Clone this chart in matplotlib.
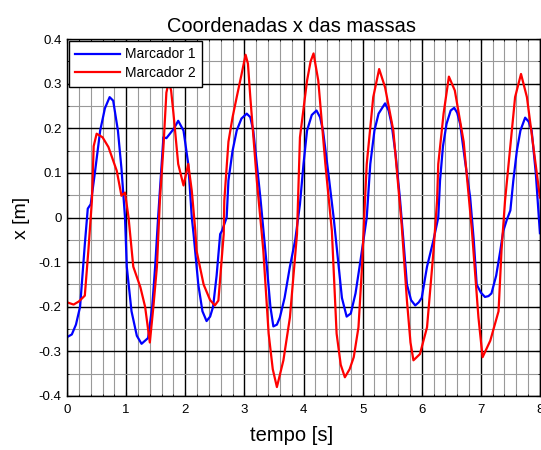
import matplotlib
matplotlib.use("Agg")
from matplotlib import pyplot as plt
from matplotlib.ticker import MultipleLocator

plt.rcParams['font.family'] = ['Liberation Sans', 'DejaVu Sans']

# ===================== dados =====================
t1 = [0.00, 0.08, 0.15, 0.22, 0.30, 0.35, 0.40, 0.47, 0.56, 0.64, 0.72, 0.78, 0.86, 0.92, 0.98,
      1.01, 1.09, 1.18, 1.26, 1.37, 1.44, 1.49, 1.54, 1.58, 1.63, 1.68, 1.74, 1.81, 1.88, 1.97, 2.05, 2.11,
      2.14, 2.22, 2.29, 2.36, 2.42, 2.47, 2.53, 2.59, 2.62, 2.70, 2.73, 2.80, 2.87, 2.95, 3.04, 3.10, 3.15, 3.21, 3.27,
      3.33, 3.38, 3.44, 3.49, 3.55, 3.60, 3.68, 3.77, 3.86, 3.94, 4.00, 4.06, 4.14, 4.22, 4.28, 4.33, 4.42, 4.51,
      4.58, 4.65, 4.73, 4.80, 4.88, 4.96, 5.07, 5.13, 5.20, 5.27, 5.38, 5.44, 5.49, 5.56, 5.63,
      5.69, 5.75, 5.82, 5.89, 5.95, 6.00, 6.09, 6.20, 6.28, 6.31, 6.36, 6.42, 6.49, 6.55, 6.60, 6.65, 6.73, 6.82,
      6.88, 6.93, 7.00, 7.07, 7.13, 7.18, 7.26, 7.33, 7.38, 7.44, 7.50, 7.55, 7.61, 7.67, 7.75, 7.81, 7.86, 7.93, 8.00]
x1 = [-0.268, -0.262, -0.240, -0.200, -0.060, 0.020, 0.030, 0.100, 0.195, 0.245, 0.270, 0.262, 0.195, 0.110, 0.000,
      -0.110, -0.210, -0.265, -0.283, -0.270, -0.200, -0.110, 0.000, 0.080, 0.180, 0.178, 0.188, 0.200, 0.217, 0.195, 0.120, 0.000,
      -0.037, -0.150, -0.210, -0.232, -0.222, -0.200, -0.130, -0.037, -0.030, 0.000, 0.083, 0.150, 0.195, 0.222, 0.233, 0.225, 0.195, 0.120, 0.045,
      -0.040, -0.110, -0.200, -0.244, -0.240, -0.224, -0.180, -0.110, -0.050, 0.030, 0.120, 0.195, 0.230, 0.240, 0.225, 0.195, 0.100, 0.000,
      -0.090, -0.180, -0.222, -0.215, -0.170, -0.100, 0.000, 0.120, 0.195, 0.233, 0.256, 0.240, 0.210, 0.140, 0.045,
      -0.050, -0.150, -0.185, -0.197, -0.190, -0.180, -0.110, -0.050, 0.000, 0.083, 0.160, 0.210, 0.240, 0.246, 0.235, 0.210, 0.130, 0.045,
      -0.050, -0.150, -0.168, -0.178, -0.176, -0.170, -0.130, -0.074, -0.030, -0.005, 0.016, 0.083, 0.150, 0.195, 0.224, 0.215, 0.195, 0.100, -0.035]

t2 = [0.00, 0.11, 0.20, 0.30, 0.36, 0.42, 0.45, 0.50, 0.60, 0.70, 0.84, 0.92, 0.98, 1.04,
      1.12, 1.24, 1.32, 1.40, 1.46, 1.52, 1.57, 1.63, 1.68, 1.72, 1.76, 1.80, 1.88, 1.97, 2.05, 2.11, 2.17,
      2.19, 2.31, 2.42, 2.50, 2.56, 2.65, 2.66, 2.73, 2.80, 2.87, 2.95, 3.02, 3.06, 3.10, 3.21, 3.29,
      3.32, 3.41, 3.48, 3.55, 3.66, 3.77, 3.89, 3.94, 4.06, 4.12, 4.17, 4.25, 4.37, 4.48,
      4.56, 4.63, 4.70, 4.78, 4.85, 4.93, 4.99, 5.04, 5.07, 5.18, 5.28, 5.38, 5.52, 5.66,
      5.75, 5.81, 5.86, 5.97, 6.09, 6.20, 6.26, 6.28, 6.37, 6.46, 6.56, 6.71, 6.85,
      6.96, 7.03, 7.16, 7.30, 7.35, 7.41, 7.47, 7.58, 7.68, 7.78, 7.89, 8.00]
x2 = [-0.190, -0.195, -0.188, -0.175, -0.074, 0.038, 0.160, 0.188, 0.180, 0.158, 0.105, 0.049, 0.056, 0.000,
      -0.110, -0.156, -0.200, -0.280, -0.200, -0.110, 0.038, 0.158, 0.280, 0.305, 0.285, 0.233, 0.120, 0.072, 0.120, 0.060, -0.030,
      -0.074, -0.150, -0.185, -0.197, -0.186, -0.037, 0.038, 0.170, 0.225, 0.270, 0.320, 0.365, 0.345, 0.270, 0.083, -0.030,
      -0.074, -0.260, -0.340, -0.380, -0.320, -0.224, -0.037, 0.180, 0.307, 0.350, 0.368, 0.307, 0.120, -0.030,
      -0.260, -0.330, -0.358, -0.340, -0.313, -0.246, -0.110, 0.038, 0.120, 0.270, 0.333, 0.292, 0.195, -0.015,
      -0.186, -0.280, -0.320, -0.306, -0.246, -0.074, 0.038, 0.120, 0.233, 0.316, 0.285, 0.170, -0.030,
      -0.224, -0.313, -0.276, -0.210, -0.074, 0.038, 0.120, 0.270, 0.322, 0.270, 0.158, 0.045]

yticks = [-0.4, -0.3, -0.2, -0.1, 0, 0.1, 0.2, 0.3, 0.4]
ytick_labels = ['-0.4', '-0.3', '-0.2', '-0.1', '0', '0.1', '0.2', '0.3', '0.4']

# ===================== figura =====================
fig = plt.figure(figsize=(5.41, 4.5), dpi=100)
ax = fig.add_axes([0.124, 0.12, 0.874, 0.793])

ax.plot(t1, x1, color='#0000ff', lw=1.6, label='Marcador 1')
ax.plot(t2, x2, color='#ff0000', lw=1.6, label='Marcador 2')

ax.set_xlim(0, 8)
ax.set_ylim(-0.4, 0.4)
ax.xaxis.set_major_locator(MultipleLocator(1))
ax.xaxis.set_minor_locator(MultipleLocator(0.2))
ax.yaxis.set_minor_locator(MultipleLocator(0.05))
ax.set_yticks(yticks)
ax.set_yticklabels(ytick_labels)

ax.grid(which='minor', color='#999999', lw=0.8, zorder=0)
ax.grid(which='major', color='black', lw=1.0, zorder=0)
ax.set_axisbelow(True)

ax.tick_params(which='both', direction='in', top=True, right=True, labelsize=9.5)
ax.tick_params(axis='x', pad=6)
ax.tick_params(axis='y', pad=4)
ax.tick_params(which='major', length=3)
ax.tick_params(which='minor', length=1.5)
for s in ax.spines.values():
    s.set_color('black')
    s.set_linewidth(1.0)

ax.set_title('Coordenadas x das massas', fontsize=14.4, pad=5, x=0.475)
ax.set_xlabel('tempo [s]', fontsize=14.5, labelpad=3)
ax.xaxis.set_label_coords(0.474, -0.085)
ax.set_ylabel('x [m]', fontsize=14, labelpad=6)

leg = ax.legend(loc='upper left', fontsize=10, fancybox=False, framealpha=1,
                edgecolor='black', borderaxespad=0.15, handlelength=3.2,
                handletextpad=0.35, borderpad=0.45, labelspacing=0.35)
leg.get_frame().set_linewidth(1.0)

fig.savefig('out.png', dpi=100)
